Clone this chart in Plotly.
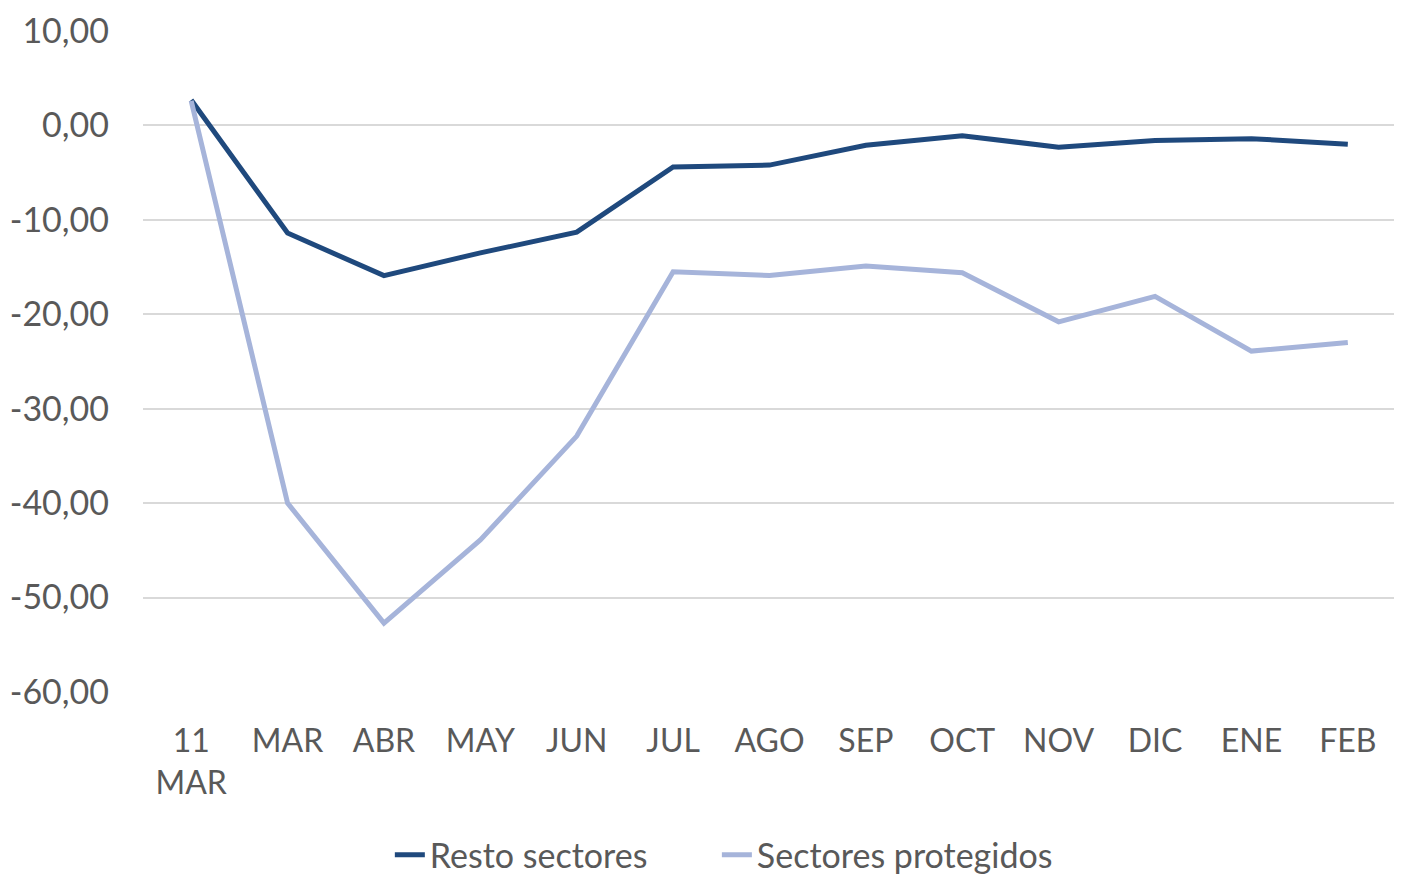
import plotly.graph_objects as go

meses = ["11<br>MAR", "MAR", "ABR", "MAY", "JUN", "JUL", "AGO", "SEP", "OCT", "NOV", "DIC", "ENE", "FEB"]
resto_sectores = [2.7, -11.4, -15.9, -13.5, -11.3, -4.4, -4.2, -2.1, -1.1, -2.3, -1.6, -1.4, -2.0]
sectores_protegidos = [2.6, -40.0, -52.7, -43.9, -32.9, -15.5, -15.9, -14.9, -15.6, -20.8, -18.1, -23.9, -23.0]
ticks_y = [10, 0, -10, -20, -30, -40, -50, -60]

gris = "#595959"
fuente = "Lato, Carlito, sans-serif"

# etiquetas con coma decimal y guion normal (no el signo menos de d3)
texto_y = [f"{v:.2f}".replace(".", ",") for v in ticks_y]

fig = go.Figure()
fig.add_trace(go.Scatter(x=meses, y=resto_sectores, mode="lines", name="Resto sectores",
                         line=dict(color="#1F497D", width=5), legend="legend"))
fig.add_trace(go.Scatter(x=meses, y=sectores_protegidos, mode="lines", name="Sectores protegidos",
                         line=dict(color="#A6B4DA", width=5), legend="legend2"))

# la página tiene 8px de margen en el body, por eso la figura es algo menor
fig.update_layout(
    width=1394, height=871,
    margin=dict(l=135, r=6, t=23, b=187, autoexpand=False),
    plot_bgcolor="white", paper_bgcolor="white",
    font=dict(family=fuente, size=32, color=gris),
    showlegend=True,
    legend=dict(orientation="h", x=0.197, xanchor="left", y=-0.247, yanchor="middle",
                font=dict(size=34, color=gris)),
    legend2=dict(orientation="h", x=0.458, xanchor="left", y=-0.247, yanchor="middle",
                 font=dict(size=34, color=gris)),
    xaxis=dict(range=[-0.5, 12.5], automargin=False, showgrid=False, zeroline=False,
               showline=False, ticks="", ticklabelstandoff=27, tickangle=0,
               tickfont=dict(size=32, color=gris)),
    yaxis=dict(range=[-60, 10], automargin=False, tickvals=ticks_y, ticktext=texto_y,
               showgrid=True, gridcolor="#D9D9D9", gridwidth=1.5, zeroline=False,
               showline=False, ticks="", ticklabelstandoff=33,
               tickfont=dict(size=34, color=gris)),
)

fig.write_html("out.html")
